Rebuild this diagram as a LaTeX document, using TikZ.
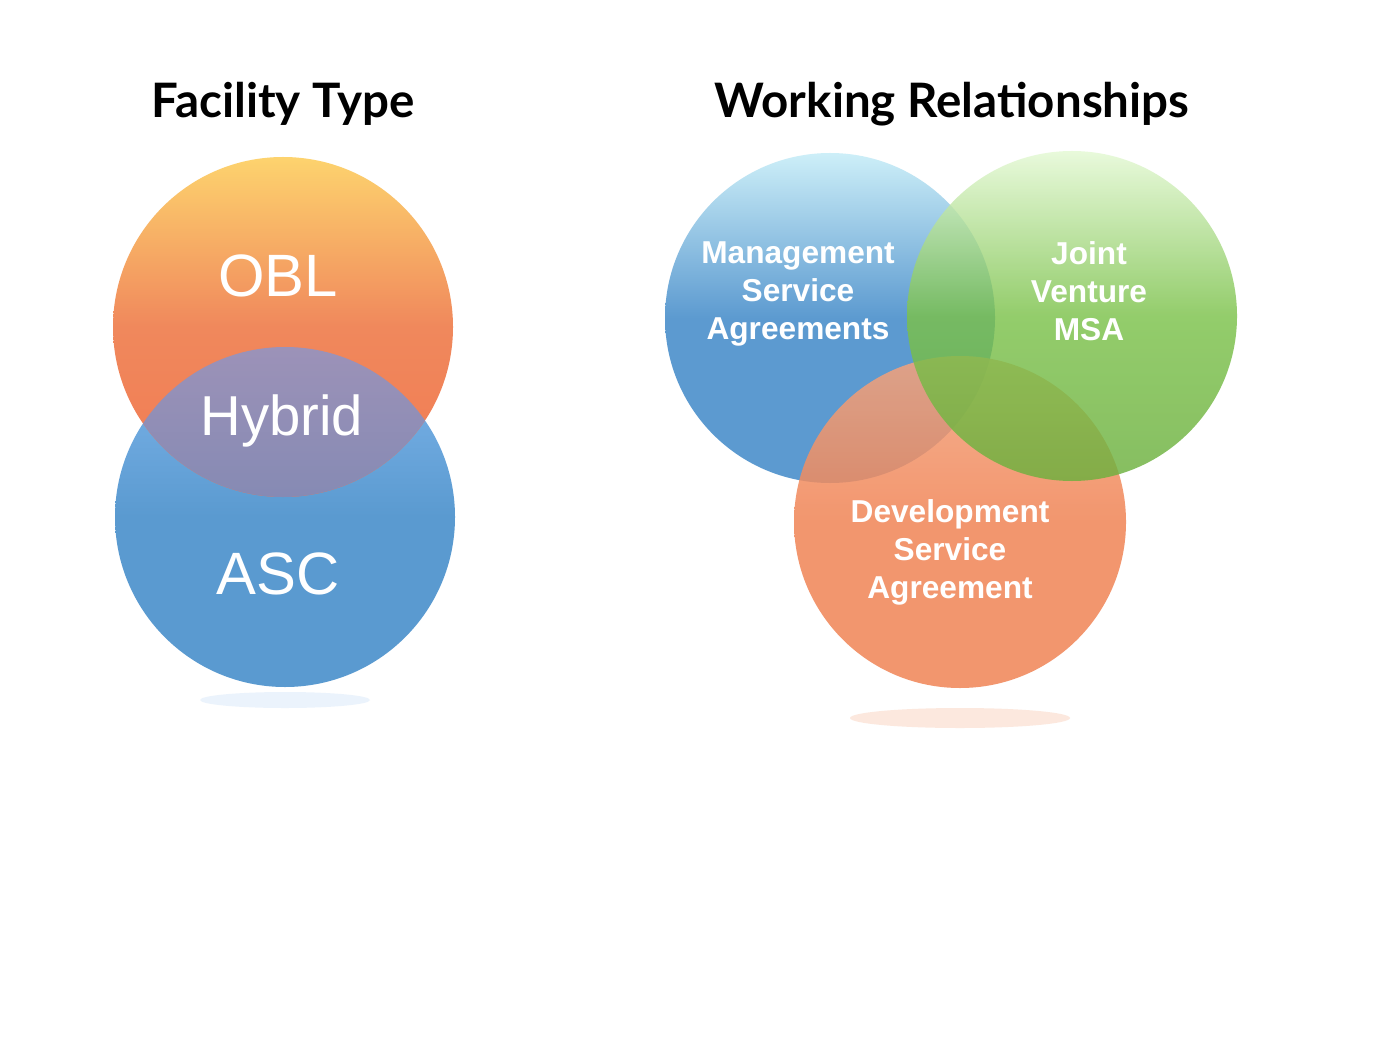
\documentclass[tikz,border=0pt]{standalone}
\usepackage{fontspec}
\setmainfont{Liberation Sans}
\newfontfamily\titlefont{Lato}
\usetikzlibrary{positioning}
\definecolor{oblTop}{HTML}{FDD36E}
\definecolor{oblMid}{HTML}{F0885C}
\definecolor{ascTop}{HTML}{80B6EC}
\definecolor{ascMid}{HTML}{5A9AD0}
\definecolor{hybTop}{HTML}{9C92B8}
\definecolor{hybBot}{HTML}{6A80AE}
\definecolor{msaTop}{HTML}{CDEFF8}
\definecolor{msaMid}{HTML}{5C9AD0}
\definecolor{jvTop}{HTML}{E4F9D4}
\definecolor{jvMid}{HTML}{7CC24B}
\definecolor{jvBot}{HTML}{6CB03E}
\definecolor{dsaTop}{HTML}{F4A47E}
\definecolor{dsaMid}{HTML}{F08455}
\begin{document}
\begin{tikzpicture}[x=0.01cm,y=-0.01cm,
    title/.style={font=\titlefont\bfseries\fontsize{13.5}{16}\selectfont},
    bigtext/.style={text=white,font=\fontsize{17}{20}\selectfont},
    label/.style={text=white,font=\bfseries\fontsize{9}{10.8}\selectfont,align=center},
    shadowblob/.style={fill opacity=0.25}
  ]
  \useasboundingbox[fill=white] (0,0) rectangle (1395,1055);

  % Titles
  \node[title] (ftitle) at (283,104) {Facility Type};
  \node[title] (wtitle) at (952,104) {Working Relationships};

  % ---------- Left: facility type ----------
  \fill[shadowblob,ascTop!60] (285,700) ellipse (85 and 8);
  \shade[top color=ascTop,bottom color=ascMid,middle color=ascMid] (285,517) circle (170);
  \shade[top color=oblTop,bottom color=oblMid!90!red,middle color=oblMid] (283,327) circle (170);
  \begin{scope}
    \clip (283,327) circle (170);
    \shade[top color=hybTop,bottom color=hybBot] (285,517) circle (170);
  \end{scope}
  \node[bigtext] (obl) at (278,276) {OBL};
  \node[bigtext,font=\fontsize{16}{19}\selectfont] (hybrid) at (282,421) {Hybrid};
  \node[bigtext] (asc) at (278,574) {ASC};

  % ---------- Right: working relationships ----------
  \fill[shadowblob,dsaTop] (960,718) ellipse (110 and 10);
  \shade[top color=msaTop,bottom color=msaMid,middle color=msaMid] (830,318) circle (165);
  \shade[top color=dsaTop,bottom color=dsaMid,middle color=dsaMid,fill opacity=0.85] (960,522) circle (166);
  \shade[top color=jvTop,bottom color=jvBot,middle color=jvMid,fill opacity=0.82] (1072,316) circle (165);

  \node[label] (msa) at (798,294) {Management\\Service\\Agreements};
  \node[label] (jv) at (1089,291) {Joint\\Venture\\MSA};
  \node[label] (dsa) at (950,552) {Development\\Service\\Agreement};
\end{tikzpicture}
\end{document}
